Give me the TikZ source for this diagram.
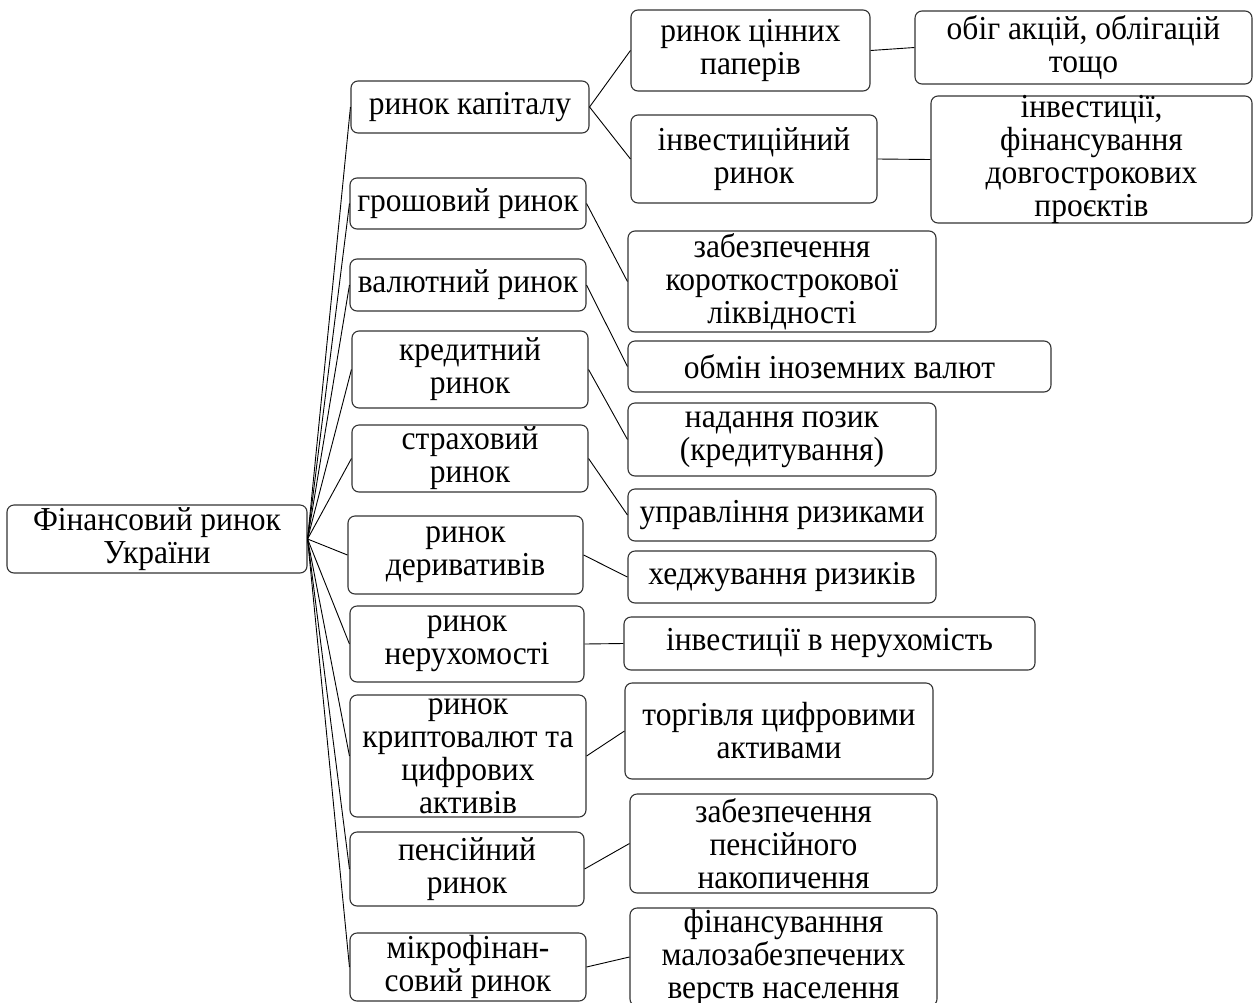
\documentclass[tikz,border=0pt]{standalone}
\usepackage{fontspec}
\setmainfont{Liberation Serif}[FakeStretch=0.94]
\usetikzlibrary{fit}
\newcommand\bx[6]{%
  \node[box, fit={(#2,#3) (#4,#5)}] (#1) {};
  \node[txt] (#1-t) at (#1.center) {#6};}
\begin{document}
\begin{tikzpicture}[x=1pt,y=-1pt,
  box/.style={draw=black!80, line width=1.1pt, rounded corners=7pt, fill=white, inner sep=0pt},
  txt/.style={align=center, font=\fontsize{33.5}{33}\selectfont, inner sep=0pt, text=black},
  link/.style={draw=black, line width=0.9pt}]
\useasboundingbox (0,0) rectangle (1253,1002);
\begin{scope}
\clip (0,0) rectangle (1253,1002);
% root
\bx{root}{7}{505}{307}{573}{Фінансовий ринок\\України}
% level 1
\bx{a1}{351}{81}{589}{133}{ринок капіталу}
\bx{a2}{350}{178}{586}{229}{грошовий ринок}
\bx{a3}{350}{259}{586}{311}{валютний ринок}
\bx{a4}{352}{331}{588}{408}{кредитний\\ринок}
\bx{a5}{352}{425}{588}{492}{страховий\\ринок}
\bx{a6}{348}{516}{583}{594}{ринок\\деривативів}
\bx{a7}{350}{606}{584}{682}{ринок\\нерухомості}
\bx{a8}{350}{695}{586}{817}{ринок\\криптовалют та\\цифрових\\активів}
\bx{a9}{350}{832}{584}{906}{пенсійний\\ринок}
\bx{a10}{350}{933}{586}{1001}{мікрофінан-\\совий ринок}
% level 2
\bx{b1}{631}{10}{870}{91}{ринок цінних\\паперів}
\bx{b1b}{631}{115}{877}{203}{інвестиційний\\ринок}
\bx{c1}{915}{11}{1252}{84}{обіг акцій, облігацій\\тощо}
\bx{c1b}{931}{96}{1252}{223}{інвестиції,\\фінансування\\довгострокових\\проєктів}
\bx{b2}{628}{231}{936}{332}{забезпечення\\короткострокової\\ліквідності}
\bx{b3}{628}{341}{1051}{392}{обмін іноземних валют}
\bx{b4}{628}{403}{936}{476}{надання позик\\(кредитування)}
\bx{b5}{628}{489}{936}{541}{управління ризиками}
\bx{b6}{628}{551}{936}{603}{хеджування ризиків}
\bx{b7}{624}{617}{1035}{670}{інвестиції в нерухомість}
\bx{b8}{625}{683}{933}{779}{торгівля цифровими\\активами}
\bx{b9}{630}{794}{937}{893}{забезпечення\\пенсійного\\накопичення}
\bx{b10}{630}{908}{937}{1006}{фінансуванння\\малозабезпечених\\верств населення}
% connectors
\foreach \n in {a1,a2,a3,a4,a5,a6,a7,a8,a9,a10}
  \draw[link] (root.east) -- (\n.west);
\draw[link] (a1.east) -- (b1.west);
\draw[link] (a1.east) -- (b1b.west);
\draw[link] (b1.east) -- (c1.west);
\draw[link] (b1b.east) -- (c1b.west);
\draw[link] (a2.east) -- (b2.west);
\draw[link] (a3.east) -- (b3.west);
\draw[link] (a4.east) -- (b4.west);
\draw[link] (a5.east) -- (b5.west);
\draw[link] (a6.east) -- (b6.west);
\draw[link] (a7.east) -- (b7.west);
\draw[link] (a8.east) -- (b8.west);
\draw[link] (a9.east) -- (b9.west);
\draw[link] (a10.east) -- (b10.west);
\end{scope}
\end{tikzpicture}
\end{document}
